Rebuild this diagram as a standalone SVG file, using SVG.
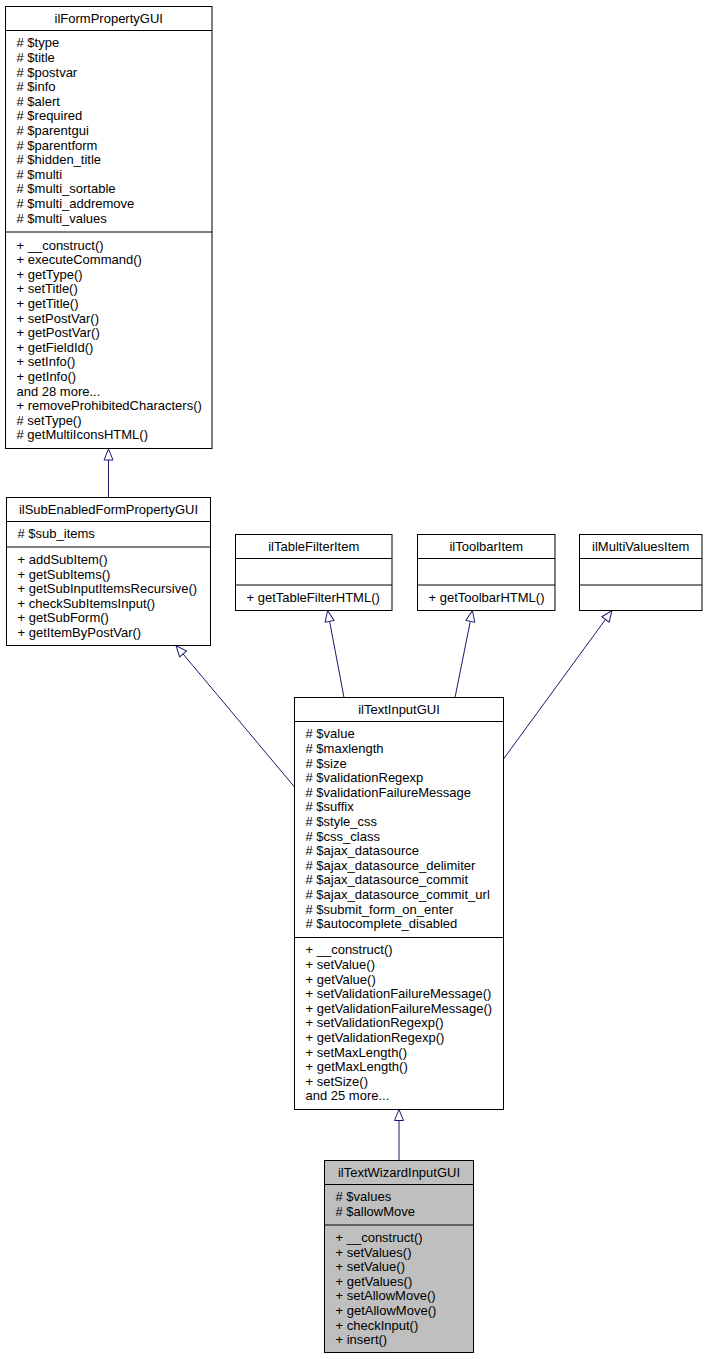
<svg xmlns="http://www.w3.org/2000/svg" width="707" height="1359" viewBox="0 0 707 1359">
<style>
.box{fill:#fff;stroke:#000;stroke-width:1}
.leaf{fill:#bfbfbf;stroke:#000;stroke-width:1}
.sep{stroke:#000;stroke-width:1}
text{font-family:"Liberation Sans",Arial,sans-serif;font-size:13px;fill:#000}
.t{text-anchor:middle}
.edge{fill:none;stroke:#191970;stroke-width:1}
</style>
<defs>
<marker id="tri" markerUnits="userSpaceOnUse" viewBox="-1 -6 14 12" refX="0" refY="0" markerWidth="14" markerHeight="12" orient="auto">
<path d="M0,-4.5 L11,0 L0,4.5 Z" fill="#fff" stroke="#191970" stroke-width="1"/>
</marker>
</defs>
<rect width="707" height="1359" fill="#fff"/>

<g id="connectors">
<path class="edge" marker-end="url(#tri)" d="M108.5,497.5 L108.5,460"/>
<path class="edge" marker-end="url(#tri)" d="M294.5,787 L183.05,653.95"/>
<path class="edge" marker-end="url(#tri)" d="M344,697.5 L329.6,621.3"/>
<path class="edge" marker-end="url(#tri)" d="M455,697.5 L470.3,621.3"/>
<path class="edge" marker-end="url(#tri)" d="M503.5,759 L605.5,619.4"/>
<path class="edge" marker-end="url(#tri)" d="M399,1160.5 L399,1120.5"/>
</g>

<g id="ilFormPropertyGUI">
<rect class="box" x="5.5" y="6.5" width="206.5" height="442"/>
<line class="sep" x1="5.5" y1="30.5" x2="212" y2="30.5"/>
<line class="sep" x1="5.5" y1="232" x2="212" y2="232"/>
<text class="t" x="108.75" y="23">ilFormPropertyGUI</text>
<text x="16.5" y="47.4">
<tspan x="16.5" y="47.4"># $type</tspan>
<tspan x="16.5" dy="14.6"># $title</tspan>
<tspan x="16.5" dy="14.6"># $postvar</tspan>
<tspan x="16.5" dy="14.6"># $info</tspan>
<tspan x="16.5" dy="14.6"># $alert</tspan>
<tspan x="16.5" dy="14.6"># $required</tspan>
<tspan x="16.5" dy="14.6"># $parentgui</tspan>
<tspan x="16.5" dy="14.6"># $parentform</tspan>
<tspan x="16.5" dy="14.6"># $hidden_title</tspan>
<tspan x="16.5" dy="14.6"># $multi</tspan>
<tspan x="16.5" dy="14.6"># $multi_sortable</tspan>
<tspan x="16.5" dy="14.6"># $multi_addremove</tspan>
<tspan x="16.5" dy="14.6"># $multi_values</tspan>
</text>
<text x="16.5" y="249.6">
<tspan x="16.5" y="249.6">+ __construct()</tspan>
<tspan x="16.5" dy="14.6">+ executeCommand()</tspan>
<tspan x="16.5" dy="14.6">+ getType()</tspan>
<tspan x="16.5" dy="14.6">+ setTitle()</tspan>
<tspan x="16.5" dy="14.6">+ getTitle()</tspan>
<tspan x="16.5" dy="14.6">+ setPostVar()</tspan>
<tspan x="16.5" dy="14.6">+ getPostVar()</tspan>
<tspan x="16.5" dy="14.6">+ getFieldId()</tspan>
<tspan x="16.5" dy="14.6">+ setInfo()</tspan>
<tspan x="16.5" dy="14.6">+ getInfo()</tspan>
<tspan x="16.5" dy="14.6">and 28 more...</tspan>
<tspan x="16.5" dy="14.6">+ removeProhibitedCharacters()</tspan>
<tspan x="16.5" dy="14.6"># setType()</tspan>
<tspan x="16.5" dy="14.6"># getMultiIconsHTML()</tspan>
</text>
</g>

<g id="ilSubEnabledFormPropertyGUI">
<rect class="box" x="6.5" y="497.5" width="204" height="148"/>
<line class="sep" x1="6.5" y1="521.5" x2="210.5" y2="521.5"/>
<line class="sep" x1="6.5" y1="547" x2="210.5" y2="547"/>
<text class="t" x="108.5" y="514">ilSubEnabledFormPropertyGUI</text>
<text x="17.5" y="538.4"># $sub_items</text>
<text x="17.5" y="564">
<tspan x="17.5" y="564">+ addSubItem()</tspan>
<tspan x="17.5" dy="14.6">+ getSubItems()</tspan>
<tspan x="17.5" dy="14.6">+ getSubInputItemsRecursive()</tspan>
<tspan x="17.5" dy="14.6">+ checkSubItemsInput()</tspan>
<tspan x="17.5" dy="14.6">+ getSubForm()</tspan>
<tspan x="17.5" dy="14.6">+ getItemByPostVar()</tspan>
</text>
</g>

<g id="ilTableFilterItem">
<rect class="box" x="235.5" y="534.5" width="156.5" height="76"/>
<line class="sep" x1="235.5" y1="558.5" x2="392" y2="558.5"/>
<line class="sep" x1="235.5" y1="585" x2="392" y2="585"/>
<text class="t" x="313.75" y="551">ilTableFilterItem</text>
<text x="246.5" y="602">+ getTableFilterHTML()</text>
</g>

<g id="ilToolbarItem">
<rect class="box" x="417.5" y="534.5" width="137.5" height="76"/>
<line class="sep" x1="417.5" y1="558.5" x2="555" y2="558.5"/>
<line class="sep" x1="417.5" y1="585" x2="555" y2="585"/>
<text class="t" x="486.25" y="551">ilToolbarItem</text>
<text x="428.5" y="602">+ getToolbarHTML()</text>
</g>

<g id="ilMultiValuesItem">
<rect class="box" x="579.5" y="534.5" width="122.5" height="76"/>
<line class="sep" x1="579.5" y1="558.5" x2="702" y2="558.5"/>
<line class="sep" x1="579.5" y1="585" x2="702" y2="585"/>
<text class="t" x="640.75" y="551">ilMultiValuesItem</text>
</g>

<g id="ilTextInputGUI">
<rect class="box" x="294.5" y="697.5" width="209" height="412"/>
<line class="sep" x1="294.5" y1="721.5" x2="503.5" y2="721.5"/>
<line class="sep" x1="294.5" y1="937.5" x2="503.5" y2="937.5"/>
<text class="t" x="399" y="714">ilTextInputGUI</text>
<text x="305.5" y="738.4">
<tspan x="305.5" y="738.4"># $value</tspan>
<tspan x="305.5" dy="14.6"># $maxlength</tspan>
<tspan x="305.5" dy="14.6"># $size</tspan>
<tspan x="305.5" dy="14.6"># $validationRegexp</tspan>
<tspan x="305.5" dy="14.6"># $validationFailureMessage</tspan>
<tspan x="305.5" dy="14.6"># $suffix</tspan>
<tspan x="305.5" dy="14.6"># $style_css</tspan>
<tspan x="305.5" dy="14.6"># $css_class</tspan>
<tspan x="305.5" dy="14.6"># $ajax_datasource</tspan>
<tspan x="305.5" dy="14.6"># $ajax_datasource_delimiter</tspan>
<tspan x="305.5" dy="14.6"># $ajax_datasource_commit</tspan>
<tspan x="305.5" dy="14.6"># $ajax_datasource_commit_url</tspan>
<tspan x="305.5" dy="14.6"># $submit_form_on_enter</tspan>
<tspan x="305.5" dy="14.6"># $autocomplete_disabled</tspan>
</text>
<text x="305.5" y="954.4">
<tspan x="305.5" y="954.4">+ __construct()</tspan>
<tspan x="305.5" dy="14.6">+ setValue()</tspan>
<tspan x="305.5" dy="14.6">+ getValue()</tspan>
<tspan x="305.5" dy="14.6">+ setValidationFailureMessage()</tspan>
<tspan x="305.5" dy="14.6">+ getValidationFailureMessage()</tspan>
<tspan x="305.5" dy="14.6">+ setValidationRegexp()</tspan>
<tspan x="305.5" dy="14.6">+ getValidationRegexp()</tspan>
<tspan x="305.5" dy="14.6">+ setMaxLength()</tspan>
<tspan x="305.5" dy="14.6">+ getMaxLength()</tspan>
<tspan x="305.5" dy="14.6">+ setSize()</tspan>
<tspan x="305.5" dy="14.6">and 25 more...</tspan>
</text>
</g>

<g id="ilTextWizardInputGUI">
<rect class="leaf" x="324.5" y="1160.5" width="149" height="192"/>
<line class="sep" x1="324.5" y1="1184.5" x2="473.5" y2="1184.5"/>
<line class="sep" x1="324.5" y1="1225" x2="473.5" y2="1225"/>
<text class="t" x="399" y="1177">ilTextWizardInputGUI</text>
<text x="335.5" y="1201.4">
<tspan x="335.5" y="1201.4"># $values</tspan>
<tspan x="335.5" dy="14.6"># $allowMove</tspan>
</text>
<text x="335.5" y="1241.9">
<tspan x="335.5" y="1241.9">+ __construct()</tspan>
<tspan x="335.5" dy="14.6">+ setValues()</tspan>
<tspan x="335.5" dy="14.6">+ setValue()</tspan>
<tspan x="335.5" dy="14.6">+ getValues()</tspan>
<tspan x="335.5" dy="14.6">+ setAllowMove()</tspan>
<tspan x="335.5" dy="14.6">+ getAllowMove()</tspan>
<tspan x="335.5" dy="14.6">+ checkInput()</tspan>
<tspan x="335.5" dy="14.6">+ insert()</tspan>
</text>
</g>
</svg>
